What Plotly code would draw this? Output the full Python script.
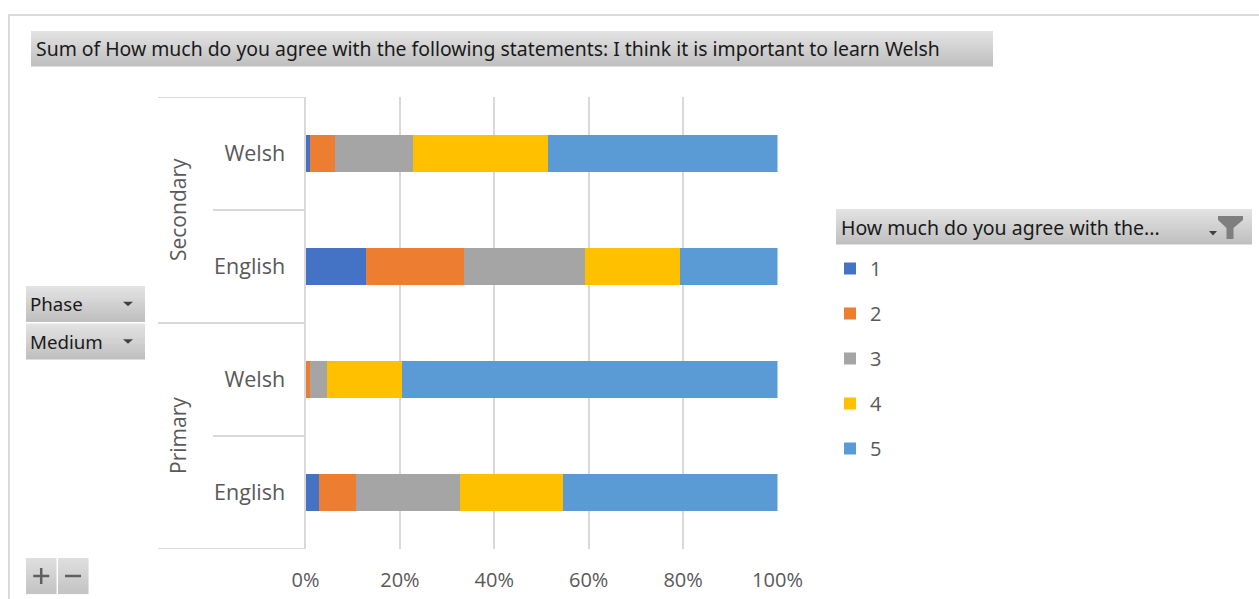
import plotly.graph_objects as go

# Survey responses: "How much do you agree ... I think it is important to learn Welsh"
# Rows run bottom-to-top on the chart.
phase = ["Primary", "Primary", "Secondary", "Secondary"]
medium = ["English", "Welsh", "English", "Welsh"]

# Share of answers per agreement level (percent of each row)
level_1 = [2.8, 0.0, 12.9, 0.85]
level_2 = [7.9, 0.85, 20.6, 5.45]
level_3 = [22.0, 3.8, 25.8, 16.55]
level_4 = [21.8, 15.8, 20.1, 28.6]
level_5 = [45.5, 79.55, 20.6, 48.55]

level_names = ["1", "2", "3", "4", "5"]
level_colors = ["#4472C4", "#ED7D31", "#A5A5A5", "#FFC000", "#5B9BD5"]
x_ticks = [0, 20, 40, 60, 80, 100]

title_text = ("Sum of How much do you agree with the following statements: "
              "I think it is important to learn Welsh")
legend_header = "How much do you agree with the..."

W, H = 1259, 599
LABEL_FONT = "Open Sans"
BUTTON_FONT = "Noto Sans"
GREY_TEXT = "#595959"


def px(x):
    return x / W


def py(y):
    return 1 - y / H


row_ids = [f"{p} / {m}" for p, m in zip(phase, medium)]

fig = go.Figure()
for name, vals, col in zip(level_names,
                           [level_1, level_2, level_3, level_4, level_5],
                           level_colors):
    fig.add_trace(go.Bar(
        y=row_ids, x=vals, name=name, orientation="h",
        marker=dict(color=col, line=dict(width=0)),
        legendgroup=name,
    ))

shapes = []
annotations = []


def grad_box(x0, y0, x1, y1, top=(226, 226, 226), bottom=(192, 192, 192), n=14):
    step = (y1 - y0) / n
    for i in range(n):
        t = i / (n - 1)
        c = tuple(round(top[k] + (bottom[k] - top[k]) * t) for k in range(3))
        shapes.append(dict(
            type="rect", xref="paper", yref="paper",
            x0=px(x0), x1=px(x1), y0=py(y0 + i * step), y1=py(y0 + (i + 1) * step + 0.6),
            fillcolor=f"rgb{c}", line=dict(width=0), layer="below",
        ))


def poly(points, color):
    d = "M " + " L ".join(f"{px(a)},{py(b)}" for a, b in points) + " Z"
    shapes.append(dict(type="path", xref="paper", yref="paper", path=d,
                       fillcolor=color, line=dict(width=0)))


# outer chart frame
shapes.append(dict(type="rect", xref="paper", yref="paper",
                   x0=px(9), y0=py(15), x1=px(1275), y1=py(620),
                   line=dict(color="#d9d9d9", width=2), layer="below"))

# title field button
grad_box(31, 31, 993, 66)
annotations.append(dict(text=title_text, x=px(34), y=py(48.5), xref="paper", yref="paper",
                        xanchor="left", yanchor="middle", showarrow=False,
                        font=dict(family=BUTTON_FONT, size=19.4, color="#1a1a1a")))

# legend field header with filter icon
grad_box(836, 209, 1252, 244)
annotations.append(dict(text=legend_header, x=px(839), y=py(227), xref="paper", yref="paper",
                        xanchor="left", yanchor="middle", showarrow=False,
                        font=dict(family=BUTTON_FONT, size=19.5, color="#1a1a1a")))
poly([(1209, 231), (1217, 231), (1213, 235.5)], "#404040")
poly([(1218, 216), (1243, 216), (1243, 220), (1233.5, 228), (1233.5, 239),
      (1226.5, 239), (1226.5, 228), (1218, 220)], "#7f7f7f")

# row field buttons
for label, (y0, y1) in zip(["Phase", "Medium"], [(286, 321.5), (323.5, 359)]):
    grad_box(26, y0, 145, y1)
    annotations.append(dict(text=label, x=px(28), y=py((y0 + y1) / 2), xref="paper", yref="paper",
                            xanchor="left", yanchor="middle", showarrow=False,
                            font=dict(family=BUTTON_FONT, size=18.7, color="#1a1a1a")))
    ym = (y0 + y1) / 2
    poly([(123, ym - 2), (133, ym - 2), (128, ym + 2.5)], "#404040")

# expand / collapse buttons
for x0, x1 in [(26, 56.5), (58, 88.5)]:
    grad_box(x0, 558, x1, 593.5, top=(222, 222, 222), bottom=(196, 196, 196))
cx, cy = 41.2, 576
shapes.append(dict(type="line", xref="paper", yref="paper", x0=px(cx - 8), x1=px(cx + 8),
                   y0=py(cy), y1=py(cy), line=dict(color="#5f5f5f", width=2.5)))
shapes.append(dict(type="line", xref="paper", yref="paper", x0=px(cx), x1=px(cx),
                   y0=py(cy - 8), y1=py(cy + 8), line=dict(color="#5f5f5f", width=2.5)))
shapes.append(dict(type="line", xref="paper", yref="paper", x0=px(65), x1=px(81),
                   y0=py(cy), y1=py(cy), line=dict(color="#5f5f5f", width=2.5)))

# category group dividers on the left of the plot
for yv, x_start in [(-0.5, 158), (0.5, 213), (1.5, 158), (2.5, 213), (3.5, 158)]:
    shapes.append(dict(type="line", xref="paper", yref="y", x0=px(x_start), x1=px(305),
                       y0=yv, y1=yv, line=dict(color="#d9d9d9", width=2)))

# outer group labels (Phase)
for label, yc in [("Primary", 0.5), ("Secondary", 2.5)]:
    annotations.append(dict(text=label, x=px(178), y=yc, xref="paper", yref="y",
                            xanchor="center", yanchor="middle", textangle=-90, showarrow=False,
                            font=dict(family=LABEL_FONT, size=21, color=GREY_TEXT)))

fig.update_layout(
    width=W, height=H, autosize=False,
    margin=dict(l=0, r=0, t=0, b=0, pad=0, autoexpand=False),
    paper_bgcolor="white", plot_bgcolor="white",
    barmode="stack", barnorm="percent", bargap=0.68,
    showlegend=True,
    legend=dict(
        x=px(830), y=py(249), xanchor="left", yanchor="top",
        traceorder="grouped", tracegroupgap=16,
        font=dict(family=LABEL_FONT, size=20, color=GREY_TEXT),
        bgcolor="rgba(0,0,0,0)", itemclick=False, itemdoubleclick=False,
    ),
    xaxis=dict(
        domain=[px(305.5), px(777.5)], range=[0, 100], automargin=False,
        tickvals=x_ticks, ticktext=[f"{v}%" for v in x_ticks],
        showgrid=True, gridcolor="#d9d9d9", gridwidth=2,
        zeroline=False, showline=False, ticks="",
        ticklabelstandoff=17,
        tickfont=dict(family=LABEL_FONT, size=20, color=GREY_TEXT),
        fixedrange=True,
    ),
    yaxis=dict(
        domain=[py(549), py(97)], range=[-0.5, 3.5], automargin=False,
        type="category", categoryorder="array", categoryarray=row_ids,
        tickvals=row_ids, ticktext=medium,
        showgrid=False, zeroline=False,
        showline=True, linecolor="#d9d9d9", linewidth=2,
        ticks="", ticklabelstandoff=14,
        tickfont=dict(family=LABEL_FONT, size=21.5, color=GREY_TEXT),
        fixedrange=True,
    ),
    shapes=shapes,
    annotations=annotations,
    hovermode=False,
)

fig.write_html("out.html", config={"displayModeBar": False})
